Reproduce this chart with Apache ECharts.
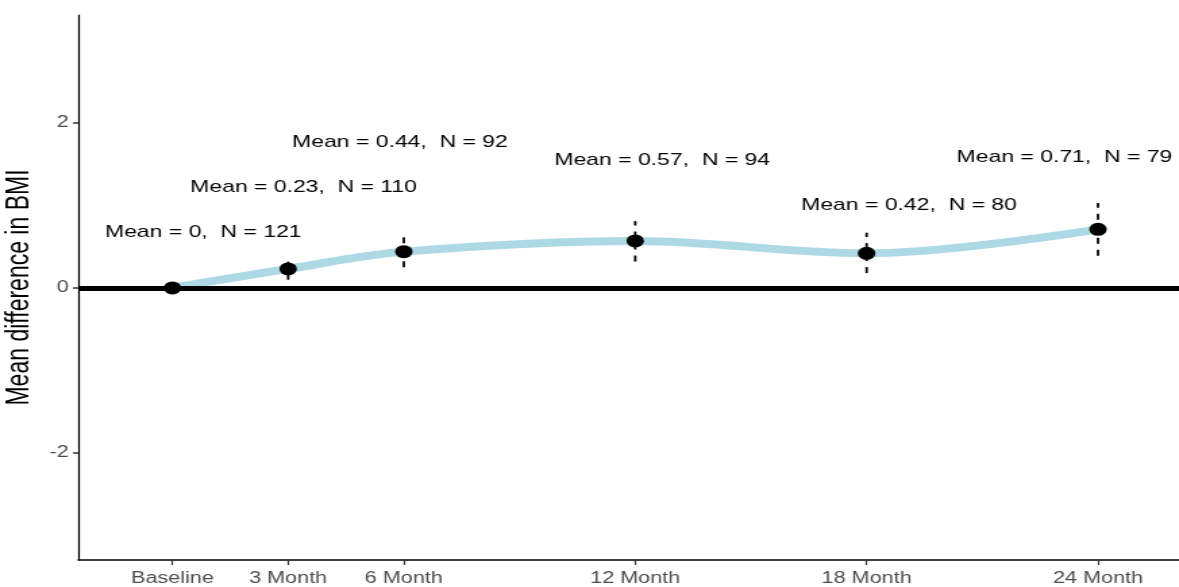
<!DOCTYPE html>
<html>
<head>
<meta charset="utf-8">
<script src="https://cdn.jsdelivr.net/npm/echarts@6/dist/echarts.min.js"></script>
<style>
  html, body { margin: 0; padding: 0; background: #fff; overflow: hidden; }
  /* the source plot is stretched sideways, so draw narrow and scale it out */
  #chart { width: 873px; height: 587px; transform: scaleX(1.3505); transform-origin: 0 0; }
</style>
</head>
<body>
<div id="chart"></div>
<script>
// time points (months) and their labels
const months = [0, 3, 6, 12, 18, 24]
const monthLabels = ['Baseline', '3 Month', '6 Month', '12 Month', '18 Month', '24 Month']
// mean difference in BMI, sample size, error bar ends
const means = [0, 0.23, 0.44, 0.57, 0.42, 0.71]
const counts = [121, 110, 92, 94, 80, 79]
const lower = [0, 0.10, 0.25, 0.32, 0.18, 0.39]
const upper = [0, 0.36, 0.62, 0.81, 0.67, 1.03]
// where the annotation text sits (data coords)
const labelX = [0.8, 3.4, 5.9, 12.7, 19.1, 23.13]
const labelY = [0.68, 1.22, 1.76, 1.55, 1.0, 1.59]
const yTicks = [-2, 0, 2]

const chart = echarts.init(document.getElementById('chart'))

const pts = months.map((m, i) => [m, means[i]])
const bars = months.map((m, i) => [m, lower[i], upper[i]]).filter(d => d[2] > d[1])
const labels = months.map((m, i) => ({
    value: [labelX[i], labelY[i]],
    name: 'Mean = ' + means[i] + ',  N = ' + counts[i]
}))

const option = {
    animation: false,
    grid: { left: 58, right: 0, top: 15, bottom: 27, outerBoundsMode: 'none' },
    xAxis: {
        type: 'value',
        min: -2.44,
        max: 26.1,
        splitLine: { show: false },
        axisLine: { show: true, onZero: false, lineStyle: { color: '#000', width: 1.5 } },
        axisTick: { show: true, length: 5, customValues: months, lineStyle: { color: '#333', width: 1.2 } },
        axisLabel: {
            customValues: months,
            margin: 11,
            fontFamily: 'Liberation Sans',
            fontSize: 16,
            color: '#4d4d4d',
            formatter: v => monthLabels[months.indexOf(v)]
        }
    },
    yAxis: {
        type: 'value',
        min: -3.3,
        max: 3.31,
        name: 'Mean difference in BMI',
        nameLocation: 'middle',
        nameGap: 27,
        nameTextStyle: { fontFamily: 'Liberation Sans', fontSize: 23, color: '#000' },
        splitLine: { show: false },
        axisLine: { show: true, onZero: false, lineStyle: { color: '#000', width: 1.2 } },
        axisTick: { show: true, length: 4, customValues: yTicks, lineStyle: { color: '#333', width: 1.5 } },
        axisLabel: {
            customValues: yTicks,
            margin: 7,
            fontFamily: 'Liberation Sans',
            fontSize: 16,
            color: '#4d4d4d'
        }
    },
    series: [
        {
            type: 'line',
            data: pts,
            smooth: 0.35,
            showSymbol: false,
            lineStyle: { color: '#ADD8E6', width: 8 },
            z: 2,
            markLine: {
                silent: true,
                symbol: 'none',
                label: { show: false },
                lineStyle: { color: '#000', width: 5, type: 'solid' },
                data: [{ yAxis: 0 }]
            }
        },
        {
            type: 'custom',
            data: bars,
            z: 3,
            renderItem: (params, api) => {
                const a = api.coord([api.value(0), api.value(1)])
                const b = api.coord([api.value(0), api.value(2)])
                return {
                    type: 'line',
                    shape: { x1: a[0], y1: a[1], x2: b[0], y2: b[1] },
                    style: { stroke: '#000', lineWidth: 1.8, lineDash: [6, 6] }
                }
            }
        },
        {
            type: 'scatter',
            data: pts,
            symbol: 'circle',
            symbolSize: 13,
            itemStyle: { color: '#000', opacity: 1 },
            z: 4
        },
        {
            type: 'scatter',
            data: labels,
            symbolSize: 0,
            itemStyle: { opacity: 1 },
            z: 5,
            label: {
                show: true,
                position: 'inside',
                formatter: p => p.name,
                fontFamily: 'Liberation Sans',
                fontSize: 17,
                color: '#000'
            }
        }
    ]
}
chart.setOption(option)
</script>
</body>
</html>
